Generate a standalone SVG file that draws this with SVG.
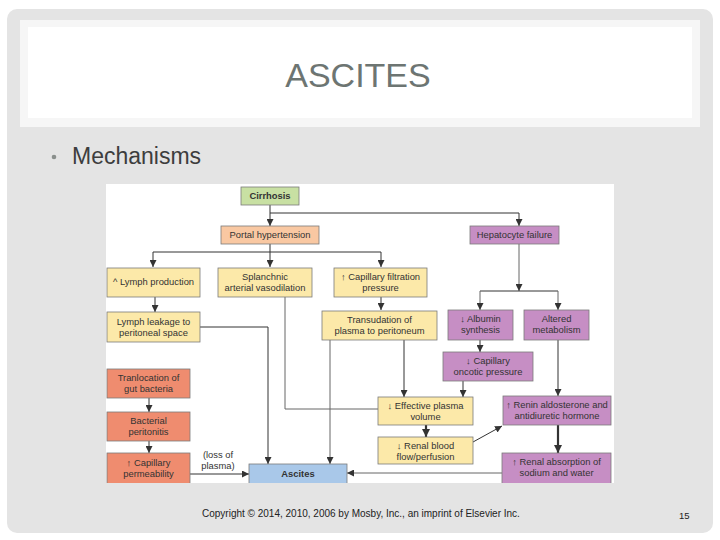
<svg xmlns="http://www.w3.org/2000/svg" width="720" height="540" viewBox="0 0 720 540">
<style>
.box{stroke:#7a7a7a;stroke-width:0.8}
.y{fill:#fce9a9}
.s{fill:#ef8c6f}
.p{fill:#c68ec4}
.t{font-family:"Liberation Sans",Arial,sans-serif;font-size:9.4px;fill:#333;text-anchor:middle}
.b{font-weight:bold}
.c{fill:none;stroke:#333;stroke-width:1}
.g{stroke:#666}
.k{stroke-width:2.2}
</style>
<defs>
<marker id="a" viewBox="0 0 8 8" refX="8" refY="4" markerWidth="7" markerHeight="7" markerUnits="userSpaceOnUse" orient="auto">
<path d="M0,0 L8,4 L0,8 z" fill="#333"/>
</marker>
<marker id="ak" viewBox="0 0 8 8" refX="8" refY="4" markerWidth="8" markerHeight="8" markerUnits="userSpaceOnUse" orient="auto">
<path d="M0,0 L8,4 L0,8 z" fill="#333"/>
</marker>
</defs>
<rect x="0" y="0" width="720" height="540" fill="#ffffff"/>
<rect x="7" y="9" width="706" height="524" rx="10" fill="#e4e4e4"/>
<rect x="20" y="20" width="680" height="107" fill="#f6f6f6"/>
<rect x="28" y="27" width="664" height="91" fill="#ffffff"/>
<text x="358" y="87" font-family="Liberation Sans,Arial,sans-serif" font-size="34" fill="#6d7572" text-anchor="middle">ASCITES</text>
<circle cx="54" cy="157" r="2.3" fill="#8a8f8c"/>
<text x="72" y="164" font-family="Liberation Sans,Arial,sans-serif" font-size="23" fill="#3d3d3d">Mechanisms</text>
<text x="202" y="517" font-family="Liberation Sans,Arial,sans-serif" font-size="10" fill="#222">Copyright © 2014, 2010, 2006 by Mosby, Inc., an imprint of Elsevier Inc.</text>
<text x="679" y="519" font-family="Liberation Sans,Arial,sans-serif" font-size="9.5" fill="#222">15</text>

<rect x="106" y="184" width="508" height="299" fill="#ffffff"/>

<g id="connectors">
<path class="c" d="M270,205 V226" marker-end="url(#a)"/>
<path class="c" d="M270,213 H519 V226" marker-end="url(#a)"/>
<path class="c" d="M270,244 V267" marker-end="url(#a)"/>
<path class="c" d="M270,252 H153 V267" marker-end="url(#a)"/>
<path class="c" d="M270,252 H381 V267" marker-end="url(#a)"/>
<path class="c g" d="M519,244 V291" marker-end="url(#a)"/>
<path class="c" d="M480,291 H558"/>
<path class="c g" d="M480,291 V310" marker-end="url(#a)"/>
<path class="c g" d="M558,291 V310" marker-end="url(#a)"/>
<path class="c" d="M155,297 V312" marker-end="url(#a)"/>
<path class="c" d="M381,297 V310" marker-end="url(#a)"/>
<path class="c" d="M480,340 V352" marker-end="url(#a)"/>
<path class="c" d="M200,327 H268 V464" marker-end="url(#a)"/>
<path class="c g" d="M330,340 V464" marker-end="url(#a)"/>
<path class="c g" d="M285,297 V409 H378"/>
<path class="c" d="M404,340 V397" marker-end="url(#a)"/>
<path class="c" d="M463,381 V397" marker-end="url(#a)"/>
<path class="c" d="M558,340 V396" marker-end="url(#a)"/>
<path class="c k" d="M426,425 V437" marker-end="url(#ak)"/>
<path class="c k" d="M558,425 V453" marker-end="url(#ak)"/>
<path class="c" d="M473,442 L502,426" marker-end="url(#a)"/>
<path class="c g" d="M502,473 H347" marker-end="url(#a)"/>
<path class="c" d="M190,474 H249" marker-end="url(#a)"/>
<path class="c" d="M149,398 V412" marker-end="url(#a)"/>
<path class="c" d="M149,441 V453" marker-end="url(#a)"/>
</g>

<g id="cirrhosis"><rect class="box" x="241" y="187" width="58" height="18" fill="#c8e0a3"/><text class="t b" x="270" y="199">Cirrhosis</text></g>
<g id="portal"><rect class="box" x="221" y="226" width="98" height="18" fill="#f9c8a2"/><text class="t" x="270" y="238">Portal hypertension</text></g>
<g id="hepatocyte"><rect class="box p" x="470" y="226" width="89" height="18"/><text class="t" x="514.5" y="238">Hepatocyte failure</text></g>

<g id="lymph-production"><rect class="box y" x="107" y="268" width="93" height="29"/><text class="t" x="153.5" y="285">^ Lymph production</text></g>
<g id="splanchnic"><rect class="box y" x="218" y="268" width="94" height="29"/><text class="t" x="265" y="280">Splanchnic</text><text class="t" x="265" y="291">arterial vasodilation</text></g>
<g id="cap-filtration"><rect class="box y" x="334" y="268" width="93" height="29"/><text class="t" x="380.5" y="280">↑ Capillary filtration</text><text class="t" x="380.5" y="291">pressure</text></g>

<g id="lymph-leakage"><rect class="box y" x="107" y="312" width="93" height="30"/><text class="t" x="153.5" y="325">Lymph leakage to</text><text class="t" x="153.5" y="336">peritoneal space</text></g>
<g id="transudation"><rect class="box y" x="322" y="311" width="115" height="29"/><text class="t" x="379.5" y="323">Transudation of</text><text class="t" x="379.5" y="334">plasma to peritoneum</text></g>
<g id="albumin"><rect class="box p" x="448" y="310" width="65" height="30"/><text class="t" x="480.5" y="322">↓ Albumin</text><text class="t" x="480.5" y="333">synthesis</text></g>
<g id="altered"><rect class="box p" x="524" y="310" width="65" height="30"/><text class="t" x="556.5" y="322">Altered</text><text class="t" x="556.5" y="333">metabolism</text></g>
<g id="oncotic"><rect class="box p" x="443" y="352" width="90" height="29"/><text class="t" x="488" y="364">↓ Capillary</text><text class="t" x="488" y="375">oncotic pressure</text></g>

<g id="translocation"><rect class="box s" x="107" y="369" width="83" height="29"/><text class="t" x="148.5" y="381">Tranlocation of</text><text class="t" x="148.5" y="392">gut bacteria</text></g>
<g id="peritonitis"><rect class="box s" x="107" y="412" width="83" height="29"/><text class="t" x="148.5" y="424">Bacterial</text><text class="t" x="148.5" y="435">peritonitis</text></g>
<g id="permeability"><rect class="box s" x="107" y="453" width="83" height="32"/><text class="t" x="148.5" y="466">↑ Capillary</text><text class="t" x="148.5" y="477">permeability</text></g>
<g id="loss-label"><text class="t" x="218" y="458">(loss of</text><text class="t" x="218" y="469">plasma)</text></g>

<g id="effective"><rect class="box y" x="378" y="397" width="95" height="28"/><text class="t" x="425.5" y="409">↓ Effective plasma</text><text class="t" x="425.5" y="420">volume</text></g>
<g id="renal-blood"><rect class="box y" x="378" y="437" width="95" height="27"/><text class="t" x="425.5" y="449">↓ Renal blood</text><text class="t" x="425.5" y="460">flow/perfusion</text></g>
<g id="renin"><rect class="box p" x="503" y="396" width="108" height="29"/><text class="t" x="557" y="408">↑ Renin aldosterone and</text><text class="t" x="557" y="419">antidiuretic hormone</text></g>
<g id="renal-absorption"><rect class="box p" x="502" y="453" width="109" height="32"/><text class="t" x="556.5" y="465">↑ Renal absorption of</text><text class="t" x="556.5" y="476">sodium and water</text></g>
<g id="ascites"><rect class="box" x="249" y="464" width="98" height="21" fill="#a9c8e9"/><text class="t b" x="298" y="477">Ascites</text></g>

<rect x="100" y="483" width="520" height="6" fill="#e4e4e4"/>
</svg>
